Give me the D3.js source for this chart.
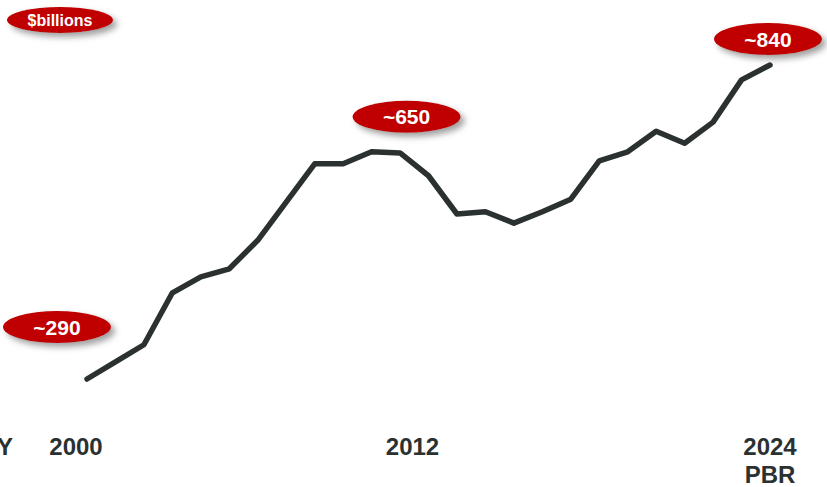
<!DOCTYPE html>
<html>
<head>
<meta charset="utf-8">
<script src="https://cdn.jsdelivr.net/npm/d3@7"></script>
<style>
  html, body { margin: 0; padding: 0; background: #fff; }
  svg { display: block; font-family: "Liberation Sans", Arial, sans-serif; }
</style>
</head>
<body>
<div id="chart"></div>
<script>
// budget by fiscal year, $billions
var years = d3.range(2000, 2025);
var values = [290, 320, 350, 441, 469, 483, 533, 600, 667, 667, 688, 686, 646,
              579, 583, 563, 583, 605, 672, 688, 724, 703, 740, 814, 840];

var callouts = [
  { year: 2000, value: 290, text: "~290" },
  { year: 2010, value: 688, text: "~650" },
  { year: 2024, value: 840, text: "~840" }
];

var tickYears = [2000, 2012, 2024];
var tickSub = { 2024: "PBR" };

var width = 827, height = 487;
var ink = "#2b3130", red = "#c00000";

var svg = d3.select("#chart").append("svg")
    .attr("width", width)
    .attr("height", height);

var defs = svg.append("defs");
defs.append("filter")
    .attr("id", "shadow")
    .attr("x", "-30%").attr("y", "-50%")
    .attr("width", "160%").attr("height", "200%")
  .append("feDropShadow")
    .attr("dx", 4).attr("dy", 4)
    .attr("stdDeviation", 3)
    .attr("flood-color", "#777")
    .attr("flood-opacity", 0.7);

var x = d3.scaleLinear().domain([2000, 2024]).range([87, 770]);
var y = d3.scaleLinear().domain([290, 840]).range([379, 65]);

var data = years.map(function(yr, i) { return { year: yr, value: values[i] }; });

var line = d3.line()
    .x(d => x(d.year))
    .y(d => y(d.value));

svg.append("path")
    .datum(data)
    .attr("fill", "none")
    .attr("stroke", ink)
    .attr("stroke-width", 5.5)
    .attr("stroke-linejoin", "round")
    .attr("stroke-linecap", "round")
    .attr("d", line);

// red oval labels
function oval(cx, cy, rx, ry, txt, size) {
    var g = svg.append("g");
    g.append("ellipse")
        .attr("cx", cx).attr("cy", cy)
        .attr("rx", rx).attr("ry", ry)
        .attr("fill", red)
        .attr("filter", "url(#shadow)");
    g.append("text")
        .attr("x", cx).attr("y", cy)
        .attr("dy", "0.36em")
        .attr("text-anchor", "middle")
        .attr("fill", "#fff")
        .attr("font-weight", "bold")
        .attr("font-size", size)
        .text(txt);
}

oval(60, 20, 53, 13, "$billions", 16);

// offsets of each callout from its data point
var offs = { 2000: [-30, -52], 2010: [35, -35], 2024: [-2, -26] };
callouts.forEach(function(c) {
    var o = offs[c.year];
    oval(x(c.year) + o[0], y(c.value) + o[1], 54, 16, c.text, 21);
});

// x labels
var labelShift = { 2000: -11, 2012: -16, 2024: 0 };
var xl = svg.append("g")
    .attr("fill", ink)
    .attr("font-weight", "bold")
    .attr("font-size", 24)
    .attr("text-anchor", "middle");

xl.append("text")
    .attr("x", 13).attr("y", 455)
    .attr("text-anchor", "end")
    .text("FY");

tickYears.forEach(function(t) {
    xl.append("text")
        .attr("x", x(t) + labelShift[t])
        .attr("y", 455)
        .text(t);
    if (tickSub[t]) {
        xl.append("text")
            .attr("x", x(t) + labelShift[t])
            .attr("y", 483)
            .text(tickSub[t]);
    }
});
</script>
</body>
</html>
